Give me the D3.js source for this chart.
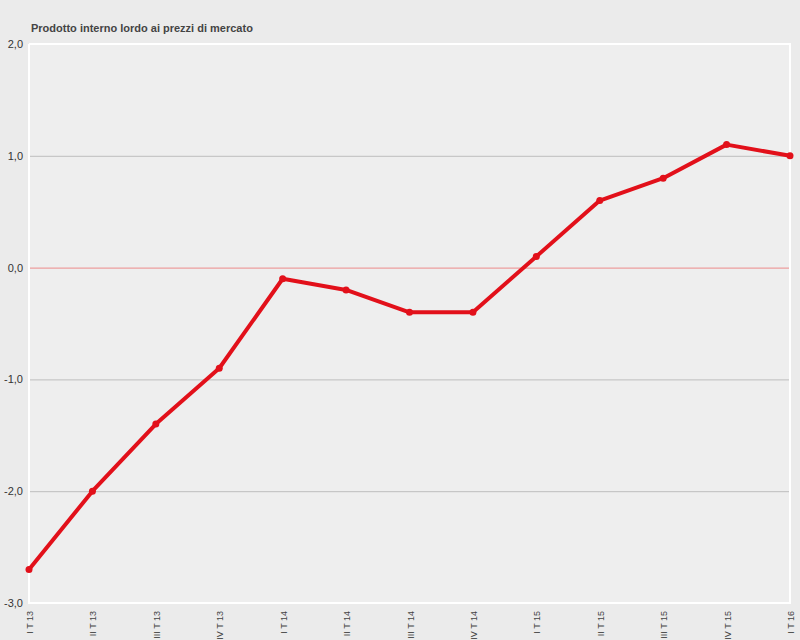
<!DOCTYPE html>
<html><head><meta charset="utf-8">
<script src="https://cdn.jsdelivr.net/npm/d3@7"></script>
<style>body{margin:0;background:#ebebeb;font-family:"Liberation Sans",Arial,sans-serif;}</style>
</head><body><div class="chart"></div>
<script>
// PIL ai prezzi di mercato, variazioni trimestrali
const quarters = ["I T 13","II T 13","III T 13","IV T 13","I T 14","II T 14","III T 14","IV T 14","I T 15","II T 15","III T 15","IV T 15","I T 16"];
const values = [-2.7, -2.0, -1.4, -0.9, -0.1, -0.2, -0.4, -0.4, 0.1, 0.6, 0.8, 1.1, 1.0];
const yTicks = [-3, -2, -1, 0, 1, 2];

const W = 800, H = 640;
const margin = ({top: 44, right: 10, bottom: 37, left: 29});

const svg = d3.select(".chart").append("svg")
    .attr("width", W).attr("height", H);

const x = d3.scalePoint().domain(quarters).range([margin.left, W - margin.right]);
const y = d3.scaleLinear().domain([-3, 2]).range([H - margin.bottom, margin.top]);

svg.append("rect")
    .attr("x", margin.left).attr("y", margin.top)
    .attr("width", W - margin.right - margin.left)
    .attr("height", H - margin.bottom - margin.top)
    .attr("fill", "#eeeeee");

// grid
svg.selectAll(".grid").data(yTicks.filter(d => d > -3 && d < 2)).enter()
    .append("line")
    .attr("x1", margin.left).attr("x2", W - margin.right)
    .attr("y1", d => y(d) + 0.5).attr("y2", d => y(d) + 0.5)
    .attr("stroke", d => d === 0 ? "#ec8a8a" : "#bdbdbd");

// white frame
svg.append("path")
    .attr("d", `M${margin.left},${margin.top}V${H - margin.bottom}H${W - margin.right}V${margin.top}H${margin.left}`)
    .attr("fill", "none").attr("stroke", "#ffffff").attr("stroke-width", 2);

const fmt = d => d3.format(".1f")(d).replace(".", ",").replace("−", "-");
svg.selectAll(".ylab").data(yTicks).enter().append("text")
    .attr("x", margin.left - 6).attr("y", d => y(d) + 4)
    .attr("text-anchor", "end").attr("font-size", 11).attr("fill", "#333")
    .text(fmt);

svg.selectAll(".xlab").data(quarters).enter().append("text")
    .attr("transform", d => `translate(${x(d) + 4},${H - margin.bottom + 8}) rotate(-90)`)
    .attr("text-anchor", "end").attr("font-size", 9).attr("fill", "#444")
    .text(d => d);

svg.append("text")
    .attr("x", 31).attr("y", 32)
    .attr("font-size", 11).attr("font-weight", "bold").attr("fill", "#444")
    .text("Prodotto interno lordo ai prezzi di mercato");

const line = d3.line().x((d, i) => x(quarters[i])).y(d => y(d));
svg.append("path").datum(values)
    .attr("d", line).attr("fill", "none")
    .attr("stroke", "#e2101a").attr("stroke-width", 4).attr("stroke-linejoin", "round");

svg.selectAll(".pt").data(values).enter().append("circle")
    .attr("cx", (d, i) => x(quarters[i])).attr("cy", d => y(d))
    .attr("r", 3.5).attr("fill", "#e2101a");
</script></body></html>
